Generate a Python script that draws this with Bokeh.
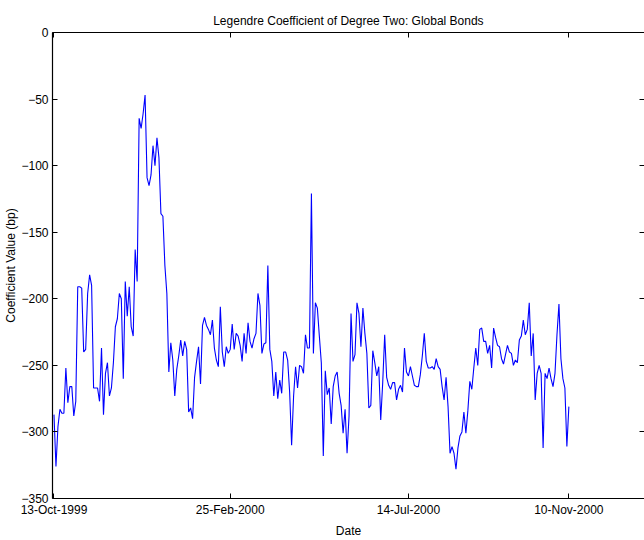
from bokeh.plotting import figure
from bokeh.models import Range1d, FixedTicker, LinearAxis, ColumnDataSource
from bokeh.embed import file_html
from bokeh.resources import INLINE

# ---- data ----
seg_a = [-287, -326, -296, -283, -286, -286, -252, -278, -266, -266, -288, -277, -191, -191, -192,
         -240, -238, -196, -182, -190, -267, -267, -267, -277, -237, -287, -256, -248, -273, -267,
         -248, -221, -215, -196, -200, -260, -187, -213, -191, -221, -228, -163, -187]
seg_b = [-64.5, -72, -61, -47, -109, -115, -107, -85, -100, -79, -94, -136, -138]
seg_c = [-175, -196, -255, -233, -246, -273, -253, -243, -231, -243, -232, -238, -285, -282, -290,
         -259, -247, -236, -264, -220, -214, -220, -223, -227, -216, -237, -246, -251, -206, -240,
         -251, -236, -241, -238, -219, -238, -226, -228, -235, -247, -226, -241, -218, -232, -237,
         -230, -226, -196, -205]
seg_d = [-241, -234, -233, -175, -238, -247, -273, -255, -275, -261, -271, -240, -240, -246, -270,
         -310, -273, -251, -267, -250, -251, -256, -227, -237, -237, -121, -241, -203, -207, -228,
         -248, -318, -254, -272, -267, -294, -266, -258, -255, -271, -280, -301, -283, -316, -288,
         -211, -247, -242, -203, -211, -236, -207, -226, -241, -282, -280, -239, -248, -258, -251,
         -291, -263, -227, -259, -265, -268, -263, -263, -276, -268, -265, -270, -237, -255, -258,
         -251, -258, -265, -266, -266, -257]
seg_e = [-243, -226, -247, -252, -252, -251, -253, -245, -251, -253, -266, -276, -259, -281, -316,
         -311, -316, -328, -312, -303, -300, -285, -301, -284, -262, -268, -252, -237, -250, -223,
         -222, -232, -232, -241, -235, -252, -222, -229, -235, -236, -245, -249, -242, -235, -240,
         -241, -250, -246, -248, -231, -228, -216, -227, -223, -203, -243, -226, -276, -256, -250,
         -256, -312, -256, -260, -252, -260, -266, -256, -227, -204, -245, -260, -267, -311, -281]
coef_values = seg_a + seg_b + seg_c + seg_d + seg_e
obs_index = list(range(len(coef_values)))

date_tick_pos = [0, 89, 179, 260]
date_tick_labels = ["13-Oct-1999", "25-Feb-2000", "14-Jul-2000", "10-Nov-2000"]
y_ticks = [-350, -300, -250, -200, -150, -100, -50, 0]

FONT = "Liberation Sans"

p = figure(width=644, height=540, output_backend="svg", toolbar_location=None,
           x_range=Range1d(-0.75, 298.2), y_range=Range1d(-350, 0),
           min_border_left=52, min_border_right=0, min_border_top=32, min_border_bottom=41,
           x_axis_location=None, y_axis_location=None,
           title="Legendre Coefficient of Degree Two: Global Bonds")
p.outline_line_color = None
p.grid.visible = False
p.background_fill_color = "white"
p.border_fill_color = "white"

p.title.align = "center"
p.title.text_font = FONT
p.title.text_font_size = "12px"
p.title.text_font_style = "normal"
p.title.text_color = "black"

src = ColumnDataSource(dict(x=obs_index, y=coef_values))
p.line("x", "y", source=src, line_color="#0000FF", line_width=1.1)

overrides = {pos: lab for pos, lab in zip(date_tick_pos, date_tick_labels)}

def style(ax, labels=True, ticks=None):
    ax.major_tick_in = 5
    ax.major_tick_out = 0
    ax.minor_tick_line_color = None
    ax.axis_line_color = "black"
    ax.axis_line_width = 1.2
    ax.major_tick_line_color = "black"
    ax.major_label_text_font = FONT
    ax.major_label_text_color = "black"
    ax.major_label_text_font_size = "12px"
    if not labels:
        ax.major_label_overrides = {t: "" for t in ticks}
        ax.major_label_text_color = None
        ax.major_label_standoff = 0

xb = LinearAxis(ticker=FixedTicker(ticks=date_tick_pos), axis_label="Date")
style(xb)
xb.major_label_overrides = overrides
xb.major_label_standoff = 4
xb.axis_label_text_font = FONT
xb.axis_label_text_font_size = "12px"
xb.axis_label_text_font_style = "normal"
xb.axis_label_text_color = "black"
xb.axis_label_standoff = 4
p.add_layout(xb, "below")

xt = LinearAxis(ticker=FixedTicker(ticks=date_tick_pos))
style(xt, labels=False, ticks=date_tick_pos)
p.add_layout(xt, "above")

yl = LinearAxis(ticker=FixedTicker(ticks=y_ticks), axis_label="Coefficient Value (bp)")
style(yl)
yl.major_label_standoff = 4
yl.axis_label_text_font = FONT
yl.axis_label_text_font_size = "12px"
yl.axis_label_text_font_style = "normal"
yl.axis_label_text_color = "black"
yl.axis_label_standoff = 0
p.add_layout(yl, "left")

yr = LinearAxis(ticker=FixedTicker(ticks=y_ticks))
style(yr, labels=False, ticks=y_ticks)
yr.axis_line_color = None
p.add_layout(yr, "right")

open("out.html", "w").write(file_html(p, INLINE))
